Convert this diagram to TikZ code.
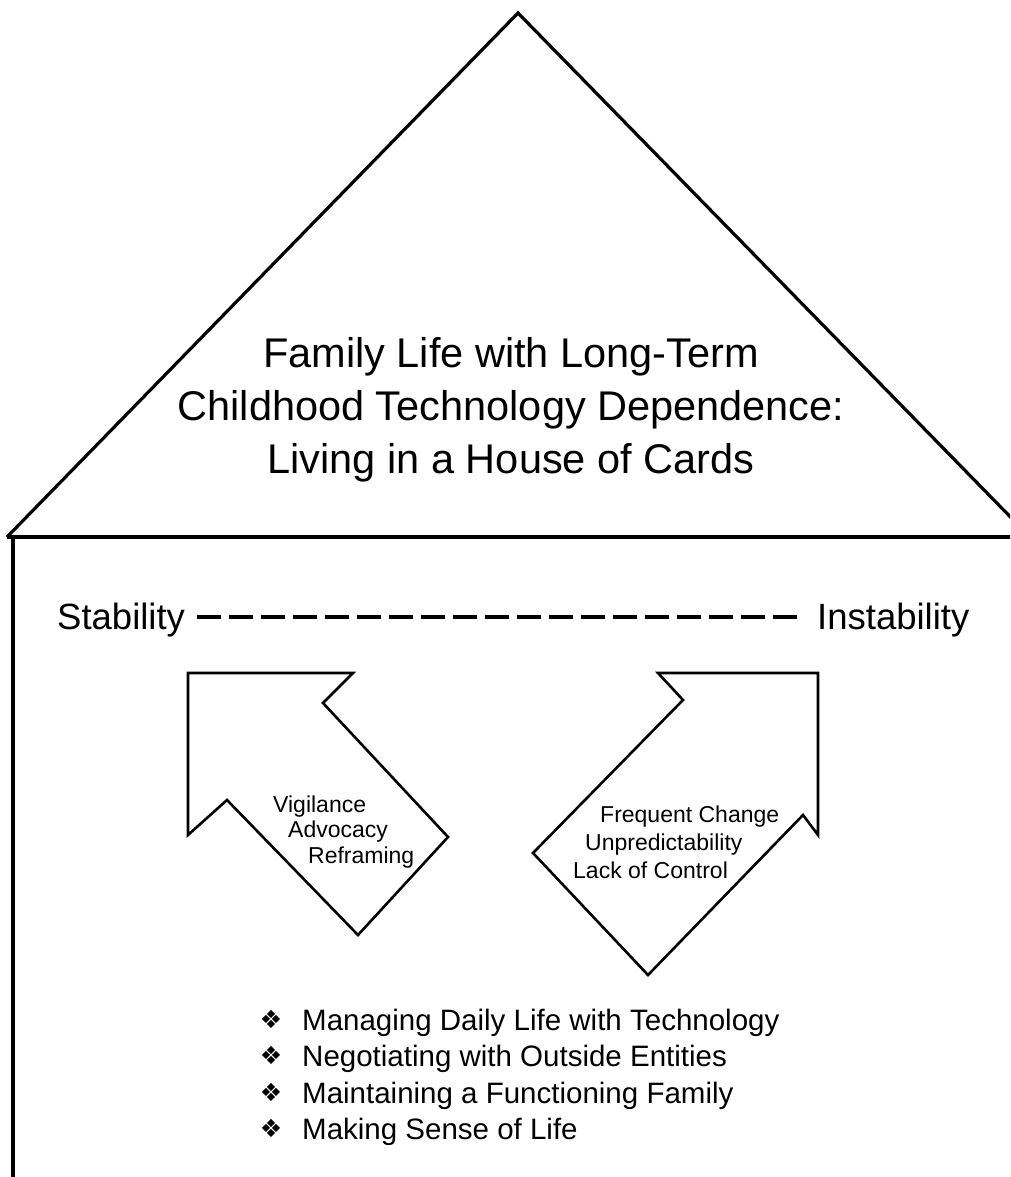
\documentclass[tikz,border=0pt]{standalone}
\usepackage{fontspec}
\setmainfont{Liberation Sans}
\newfontfamily\symfont{DejaVu Sans}
\begin{document}
\begin{tikzpicture}[x=1pt,y=-1pt,
  wall/.style={line width=3.2pt, line join=miter},
  bigarrow/.style={line width=2.6pt, line join=miter},
  title/.style={anchor=base, font=\fontsize{41.5}{50}\selectfont, inner sep=0pt},
  pole/.style={anchor=base west, font=\fontsize{36.5}{44}\selectfont, inner sep=0pt},
  arrowtext/.style={anchor=base west, font=\fontsize{23}{28}\selectfont, inner sep=0pt},
  item/.style={anchor=base west, font=\fontsize{29.5}{36}\selectfont, inner sep=0pt},
  bulletsym/.style={anchor=center, font=\symfont\fontsize{25}{30}\selectfont, inner sep=0pt},
  dashline/.style={line width=3.5pt, dash pattern=on 24pt off 8pt}]
\useasboundingbox (0,0) rectangle (1010,1177);
\clip (0,0) rectangle (1010,1177);
\fill[white] (0,0) rectangle (1010,1177);

% roof
\draw[wall] (7,537) -- (518,13) -- (1030,537);
% ceiling line and left wall
\draw[wall] (7,537) -- (1012,537);
\draw[wall] (13,537) -- (13,1180);

% title
\node[title] (t1) at (511,367) {Family Life with Long-Term};
\node[title] (t2) at (511,420) {Childhood Technology Dependence:};
\node[title] (t3) at (511,473) {Living in a House of Cards};

% stability axis
\node[pole] (stab) at (57,629) {Stability};
\node[pole] (instab) at (817,629) {Instability};
\coordinate (dashL) at (197,617);
\coordinate (dashR) at (797,617);
\draw[dashline] (dashL) -- (dashR);

% left arrow (pointing up-left)
\draw[bigarrow] (188,673) -- (353,673) -- (323,703) -- (448,837) -- (358,935)
  -- (227,800) -- (188,835) -- cycle;
\node[arrowtext] (a1) at (273,812) {Vigilance};
\node[arrowtext] (a2) at (288,837) {Advocacy};
\node[arrowtext] (a3) at (308,863) {Reframing};

% right arrow (pointing up-right)
\draw[bigarrow] (818,673) -- (818,835) -- (803,815) -- (648,975) -- (533,853)
  -- (683,700) -- (658,673) -- cycle;
\node[arrowtext] (b1) at (600,822) {Frequent Change};
\node[arrowtext] (b2) at (585,850) {Unpredictability};
\node[arrowtext] (b3) at (573,878) {Lack of Control};

% bullet list
\node[bulletsym] (s1) at (271,1019) {❖};
\node[bulletsym] (s2) at (271,1055) {❖};
\node[bulletsym] (s3) at (271,1092) {❖};
\node[bulletsym] (s4) at (271,1128) {❖};
\node[item] (i1) at (302,1030) {Managing Daily Life with Technology};
\node[item] (i2) at (302,1066) {Negotiating with Outside Entities};
\node[item] (i3) at (302,1103) {Maintaining a Functioning Family};
\node[item] (i4) at (302,1139) {Making Sense of Life};
\end{tikzpicture}
\end{document}
